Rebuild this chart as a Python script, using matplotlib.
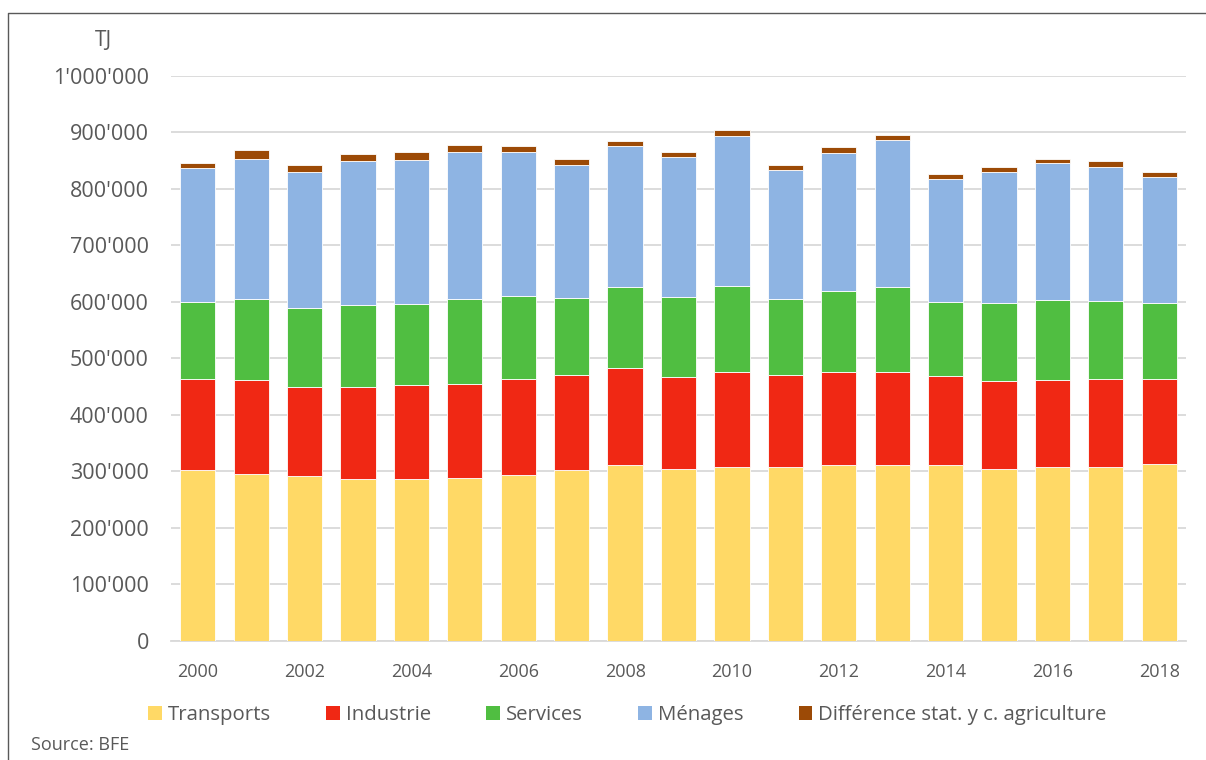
import numpy as np
import matplotlib; matplotlib.use("Agg")
import matplotlib.pyplot as plt
from matplotlib.lines import Line2D
from matplotlib.patches import Patch

plt.rcParams['font.family'] = ['Open Sans', 'DejaVu Sans']

years = [str(y) for y in range(2000, 2019)]
xlabels = [y if int(y) % 2 == 0 else '' for y in years]

# values in TJ (thousands)
transports = [302, 295, 291, 287, 287, 289, 294, 302, 312, 305, 308, 308, 312, 312, 311, 304, 307, 307, 313]
industrie  = [161, 166, 158, 163, 165, 166, 170, 168, 170, 161, 168, 163, 163, 164, 157, 155, 154, 156, 151]
services   = [137, 144, 139, 145, 144, 149, 146, 137, 144, 143, 152, 134, 144, 150, 131, 138, 142, 138, 133]
menages    = [236, 247, 242, 254, 255, 261, 255, 235, 249, 247, 265, 228, 244, 260, 218, 233, 242, 238, 224]
diff_stat  = [10, 17, 11, 13, 13, 12, 10, 10, 10, 9, 10, 9, 10, 9, 9, 8, 8, 10, 9]

series = [
    ('Transports', transports, '#FFD966'),
    ('Industrie', industrie, '#F02814'),
    ('Services', services, '#50BE41'),
    ('Ménages', menages, '#8EB4E3'),
    ('Différence stat. y c. agriculture', diff_stat, '#9C4A06'),
]

txt = '#595959'
grid = '#D9D9D9'

fig = plt.figure(figsize=(12.06, 7.6), dpi=100)
ax = fig.add_axes([171/1206, 1-641/760, (1186-171)/1206, (641-75.5)/760])

x = np.arange(len(years))
bottom = np.zeros(len(years))
for name, vals, col in series:
    v = np.array(vals) * 1000.0
    ax.bar(x, v, 0.66, bottom=bottom, color=col, edgecolor='white', linewidth=0.6, zorder=3)
    bottom += v

ax.set_xlim(-0.5, len(years) - 0.5)
ax.set_ylim(0, 1000000)
ax.set_yticks(np.arange(0, 1000001, 100000))
ax.set_yticklabels(['0'] + ["{:,}".format(v).replace(',', "'") for v in range(100000, 1000001, 100000)])
ax.set_xticks(x)
ax.set_xticklabels(xlabels)
ax.tick_params(axis='y', length=0, pad=16, labelsize=15.5, labelcolor=txt)
ax.tick_params(axis='x', length=0, pad=15.5, labelsize=13, labelcolor=txt)
ax.grid(axis='y', color=grid, linewidth=1.3, zorder=0)
ax.set_axisbelow(True)
for s in ['top', 'right', 'left']:
    ax.spines[s].set_visible(False)
ax.spines['bottom'].set_color(grid)
ax.spines['bottom'].set_linewidth(1.3)

fig.text(103.5/1206, 1-40.5/760, 'TJ', fontsize=15, color=txt, ha='center', va='center')
fig.text(31/1206, 1-745/760, 'Source: BFE', fontsize=13, color=txt, ha='left', va='center')

handles = [Patch(facecolor=c, edgecolor='none') for _, _, c in series]
fig.legend(handles, [n for n, _, _ in series], loc='center', ncol=5,
           bbox_to_anchor=(627.5/1206, 1-715/760), frameon=False, fontsize=14.7,
           labelcolor=txt, handlelength=0.67, handleheight=0.67, handletextpad=0.3,
           columnspacing=2.7)

# outer frame
fig.add_artist(Line2D([8/1206, 8/1206, 1.0], [0.0, 1-13/760, 1-13/760],
                      transform=fig.transFigure, color='#595959', linewidth=1.0))

fig.savefig('out.png', dpi=100)
